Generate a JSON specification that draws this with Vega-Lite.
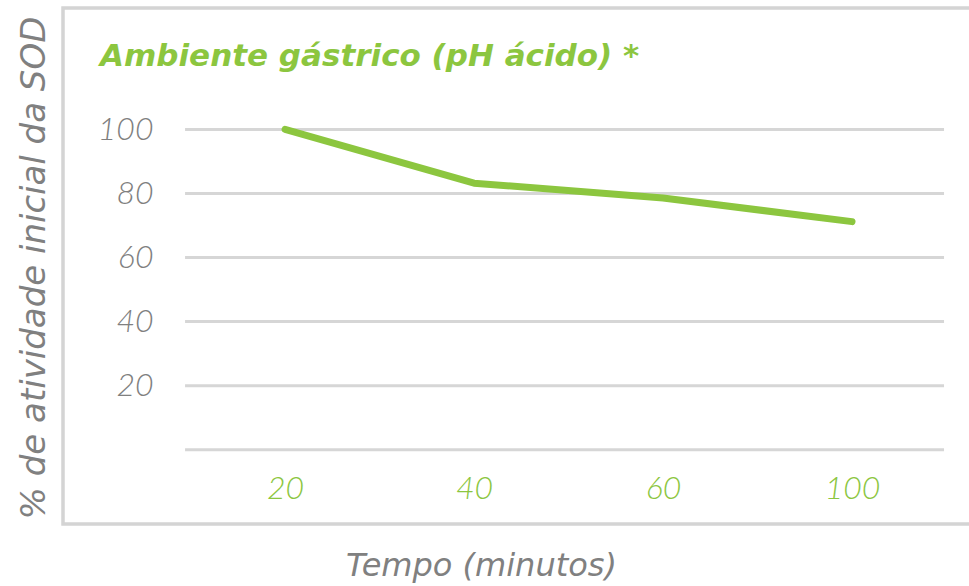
{
  "$schema": "https://vega.github.io/schema/vega-lite/v6.json",
  "autosize": "none",
  "width": 920,
  "height": 516,
  "padding": {"left": 63, "top": 8, "right": 0, "bottom": 62},
  "background": "white",
  "config": {
    "view": {"stroke": "#d4d4d4", "strokeWidth": 3.5},
    "font": "Lato"
  },
  "title": {
    "text": "Ambiente gástrico (pH ácido) *",
    "anchor": "start",
    "frame": "group",
    "orient": "top",
    "font": "DejaVu Sans",
    "fontSize": 31,
    "fontWeight": "bold",
    "fontStyle": "italic",
    "color": "#8cc63f",
    "baseline": "alphabetic",
    "offset": 0,
    "dx": 37,
    "dy": 89
  },
  "layer": [
    {
      "data": {"values": [{"g": 0}, {"g": 20}, {"g": 40}, {"g": 60}, {"g": 80}, {"g": 100}]},
      "mark": {"type": "rule", "color": "#d6d6d6", "strokeWidth": 3, "xOffset": -100, "x2Offset": 92},
      "encoding": {
        "x": {"datum": "20", "type": "ordinal"},
        "x2": {"datum": "100"},
        "y": {"field": "g", "type": "quantitative"}
      }
    },
    {
      "data": {"values": [
        {"tempo": "20", "atividade": 100},
        {"tempo": "40", "atividade": 83.2},
        {"tempo": "60", "atividade": 78.6},
        {"tempo": "100", "atividade": 71.2}
      ]},
      "mark": {"type": "line", "color": "#8cc63f", "strokeWidth": 7, "strokeCap": "round", "strokeJoin": "round"},
      "encoding": {
        "x": {
          "field": "tempo",
          "type": "ordinal",
          "sort": ["20", "40", "60", "100"],
          "scale": {"type": "point", "domain": ["20", "40", "60", "100"], "padding": 0.934, "align": 0.629},
          "axis": {
            "title": "Tempo (minutos)",
            "titleFont": "DejaVu Sans",
            "titleFontSize": 32,
            "titleFontWeight": 200,
            "titleFontStyle": "italic",
            "titleColor": "#808080",
            "titleX": 418,
            "titleY": 51,
            "titleBaseline": "alphabetic",
            "titleAnchor": "middle",
            "titleAlign": "center",
            "domain": false,
            "ticks": false,
            "grid": false,
            "labelAngle": 0,
            "labelAlign": "center",
            "labelOffset": 0,
            "labelFont": "Lato",
            "labelFontSize": 32,
            "labelFontWeight": 300,
            "labelFontStyle": "italic",
            "labelColor": "#8cc63f",
            "labelBaseline": "middle",
            "labelPadding": -36
          }
        },
        "y": {
          "field": "atividade",
          "type": "quantitative",
          "scale": {"domain": [-23.2, 137.9], "nice": false, "zero": false},
          "axis": {
            "title": "% de atividade inicial da SOD",
            "titleFont": "DejaVu Sans",
            "titleFontSize": 34,
            "titleFontWeight": 200,
            "titleFontStyle": "italic",
            "titleColor": "#808080",
            "titleX": -29,
            "titleY": 259.5,
            "titleAngle": -90,
            "titleBaseline": "middle",
            "titleAlign": "center",
            "titleAnchor": "middle",
            "values": [20, 40, 60, 80, 100],
            "domain": false,
            "ticks": false,
            "grid": false,
            "labelFont": "Lato",
            "labelFontSize": 32,
            "labelFontWeight": 300,
            "labelFontStyle": "italic",
            "labelColor": "#808080",
            "labelAlign": "right",
            "labelBaseline": "middle",
            "labelPadding": -90
          }
        }
      }
    }
  ]
}
